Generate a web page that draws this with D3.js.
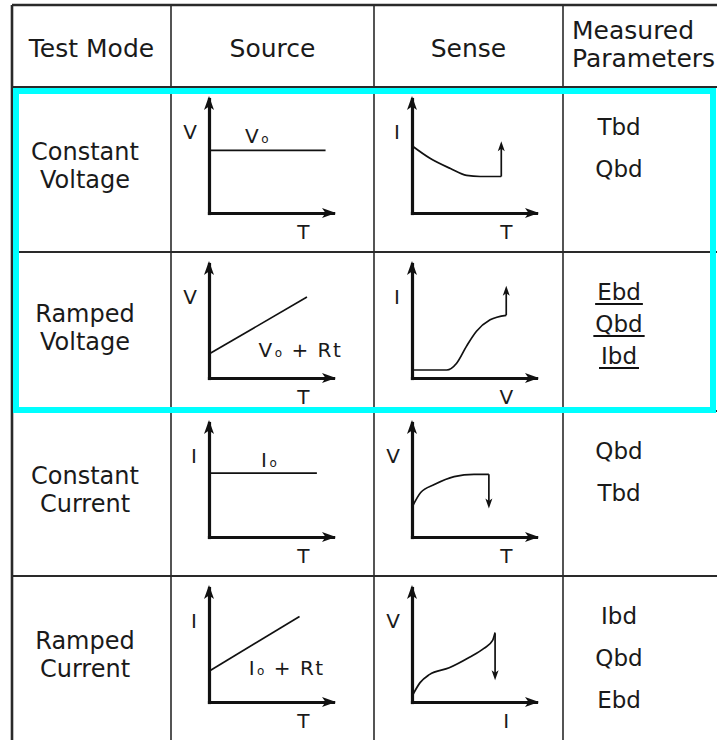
<!DOCTYPE html>
<html>
<head>
<meta charset="utf-8">
<script src="https://cdn.jsdelivr.net/npm/d3@7"></script>
<style>
body{margin:0;background:#fff}
svg{display:block}
text{font-family:"DejaVu Sans",sans-serif;fill:#1a1a1a}
</style>
</head>
<body>
<div id="chart"></div>
<script>
// table content
const headers = [["Test Mode"],["Source"],["Sense"],["Measured","Parameters"]]
const testModes = [["Constant","Voltage"],["Ramped","Voltage"],["Constant","Current"],["Ramped","Current"]]
const sourceAxes = [["V","T"],["V","T"],["I","T"],["I","T"]]
const senseAxes = [["I","T"],["I","V"],["V","T"],["V","I"]]
// source waveforms, [t, level] in 0..1 units of each small plot
const sourceCurves = [
  [[0,0.55],[0.94,0.55]],
  [[0,0.21],[0.79,0.71]],
  [[0,0.56],[0.87,0.56]],
  [[0,0.27],[0.73,0.75]]
]
const sourceLabels = [["V","o",""],["V","o"," + Rt"],["I","o",""],["I","o"," + Rt"]]
// sense responses
const senseCurves = [
  [[0,0.59],[0.145,0.48],[0.31,0.39],[0.44,0.33],[0.55,0.32],[0.72,0.32]],
  [[0,0.07],[0.28,0.07],[0.36,0.13],[0.44,0.28],[0.52,0.41],[0.63,0.51],[0.76,0.55]],
  [[0,0.26],[0.07,0.39],[0.18,0.46],[0.34,0.53],[0.50,0.55],[0.62,0.55]],
  [[0,0.05],[0.065,0.17],[0.14,0.24],[0.30,0.30],[0.46,0.39],[0.58,0.47],[0.65,0.54],[0.67,0.61]]
]
// breakdown jump: [x, from, to]
const senseJumps = [[0.72,0.32,0.63],[0.76,0.55,0.81],[0.62,0.55,0.25],[0.67,0.60,0.19]]
const measured = [["Tbd","Qbd"],["Ebd","Qbd","Ibd"],["Qbd","Tbd"],["Ibd","Qbd","Ebd"]]
const underlined = [false,true,false,false]
const highlighted = [0,1]

const width = 717
const height = 740
const colEdges = [12,171,374,563,717]
const rowEdges = [87,252,411,576,742]
const headerTop = 5
const sourceLabelPos = [[0.29,0.61],[0.40,0.18],[0.42,0.61],[0.32,0.24]]

const svg = d3.select('#chart').append('svg')
  .attr('width',width)
  .attr('height',height)

const line = d3.line().curve(d3.curveMonotoneX)

// grid lines
const grid = svg.append('g').attr('stroke','#2a2a2a').attr('fill','none')
grid.selectAll('line.col')
  .data(colEdges.slice(1,4))
  .enter().append('line')
  .attr('x1',d=>d).attr('x2',d=>d)
  .attr('y1',headerTop).attr('y2',height)
  .attr('stroke-width',1.6)
grid.selectAll('line.row')
  .data(rowEdges.slice(0,4))
  .enter().append('line')
  .attr('x1',colEdges[0]).attr('x2',width)
  .attr('y1',d=>d).attr('y2',d=>d)
  .attr('stroke-width',1.8)
grid.append('line')
  .attr('x1',colEdges[0]).attr('x2',width)
  .attr('y1',headerTop).attr('y2',headerTop)
  .attr('stroke-width',2.5)
grid.append('line')
  .attr('x1',colEdges[0]).attr('x2',colEdges[0])
  .attr('y1',headerTop).attr('y2',height)
  .attr('stroke-width',2.6)

// header
headers.forEach((h,i)=>{
  const cx = (colEdges[i]+colEdges[i+1])/2
  const mid = (headerTop+rowEdges[0])/2
  const t = svg.append('text')
    .attr('font-size',25)
    .attr('text-anchor', i==3 ? 'start' : 'middle')
  t.selectAll('tspan').data(h).enter().append('tspan')
    .attr('x', i==3 ? colEdges[i]+9 : cx)
    .attr('y',(d,j)=> h.length==1 ? mid+11 : mid-7+j*28)
    .text(d=>d)
})

const arrowHead = (g,x,y,angle,len,half)=>{
  g.append('path')
    .attr('d',`M0,0L${-len},${-half}L${-len*0.75},0L${-len},${half}Z`)
    .attr('transform',`translate(${x},${y}) rotate(${angle})`)
    .attr('fill','#111')
}

const miniPlot = (cellLeft,rowTop,axesNames)=>{
  const ox = cellLeft+38
  const oy = rowTop+126
  const x = d3.scaleLinear().domain([0,1]).range([ox,ox+124])
  const y = d3.scaleLinear().domain([0,1]).range([oy,oy-114])
  const g = svg.append('g')
  g.append('g').attr('transform',`translate(0,${oy})`)
    .call(d3.axisBottom(x).tickValues([]).tickSizeOuter(0))
  g.append('g').attr('transform',`translate(${ox},0)`)
    .call(d3.axisLeft(y).tickValues([]).tickSizeOuter(0))
  g.selectAll('.domain')
    .attr('stroke','#111')
    .attr('stroke-width',3.2)
    .attr('stroke-linecap','square')
  arrowHead(g,x(1)+3,y(0),0,14,5)
  arrowHead(g,x(0),y(1)-3,-90,14,5)
  g.append('text').attr('font-size',20).attr('text-anchor','end')
    .attr('x',ox-12).attr('y',y(0.71)+7).text(axesNames[0])
  g.append('text').attr('font-size',20).attr('text-anchor','middle')
    .attr('x',x(0.76)).attr('y',oy+26).text(axesNames[1])
  return {g,x,y}
}

// body rows
testModes.forEach((mode,r)=>{
  const top = rowEdges[r]
  const bottom = rowEdges[r+1]
  const mid = (top+bottom)/2

  const t = svg.append('text').attr('font-size',24).attr('text-anchor','middle')
  t.selectAll('tspan').data(mode).enter().append('tspan')
    .attr('x',85)
    .attr('y',(d,j)=>mid-10+j*28)
    .text(d=>d)

  // source
  const src = miniPlot(colEdges[1],top,sourceAxes[r])
  src.g.append('path')
    .attr('d',line(sourceCurves[r].map(d=>[src.x(d[0]),src.y(d[1])])))
    .attr('fill','none').attr('stroke','#111').attr('stroke-width',1.7)
  const lb = sourceLabels[r]
  const lt = src.g.append('text').attr('font-size',20)
    .style('letter-spacing','1.5px')
    .style('white-space','pre')
    .attr('x',src.x(sourceLabelPos[r][0])).attr('y',src.y(sourceLabelPos[r][1]))
  lt.append('tspan').text(lb[0])
  lt.append('tspan').attr('font-size',12).attr('dx',1).text(lb[1])
  if (lb[2]) lt.append('tspan').text(lb[2])

  // sense
  const sen = miniPlot(colEdges[2],top,senseAxes[r])
  sen.g.append('path')
    .attr('d',line(senseCurves[r].map(d=>[sen.x(d[0]),sen.y(d[1])])))
    .attr('fill','none').attr('stroke','#111').attr('stroke-width',1.7)
  const jmp = senseJumps[r]
  const up = jmp[2]>jmp[1]
  sen.g.append('line')
    .attr('x1',sen.x(jmp[0])).attr('x2',sen.x(jmp[0]))
    .attr('y1',sen.y(jmp[1])).attr('y2',sen.y(jmp[2])+(up?6:-6))
    .attr('stroke','#111').attr('stroke-width',1.7)
  arrowHead(sen.g,sen.x(jmp[0]),sen.y(jmp[2]),up?-90:90,10,3.5)

  // measured parameters
  const step = underlined[r] ? 32 : 42
  const mg = svg.append('g')
  mg.selectAll('text').data(measured[r]).enter().append('text')
    .attr('font-size',23)
    .attr('text-anchor','middle')
    .attr('x',619)
    .attr('y',(d,j)=>top+48+j*step)
    .text(d=>d)
    .each(function(d,j){
      if(!underlined[r]) return
      const w = this.getComputedTextLength()
      mg.append('line')
        .attr('x1',619-w/2-2).attr('x2',619+w/2+2)
        .attr('y1',top+48+j*step+4).attr('y2',top+48+j*step+4)
        .attr('stroke','#111').attr('stroke-width',2)
    })
})

// highlight box around the voltage modes
svg.append('rect')
  .attr('x',16)
  .attr('y',rowEdges[highlighted[0]]+4)
  .attr('width',697)
  .attr('height',rowEdges[highlighted[1]+1]-rowEdges[highlighted[0]]-5)
  .attr('fill','none')
  .attr('stroke','#00ffff')
  .attr('stroke-width',6)
</script>
</body>
</html>
